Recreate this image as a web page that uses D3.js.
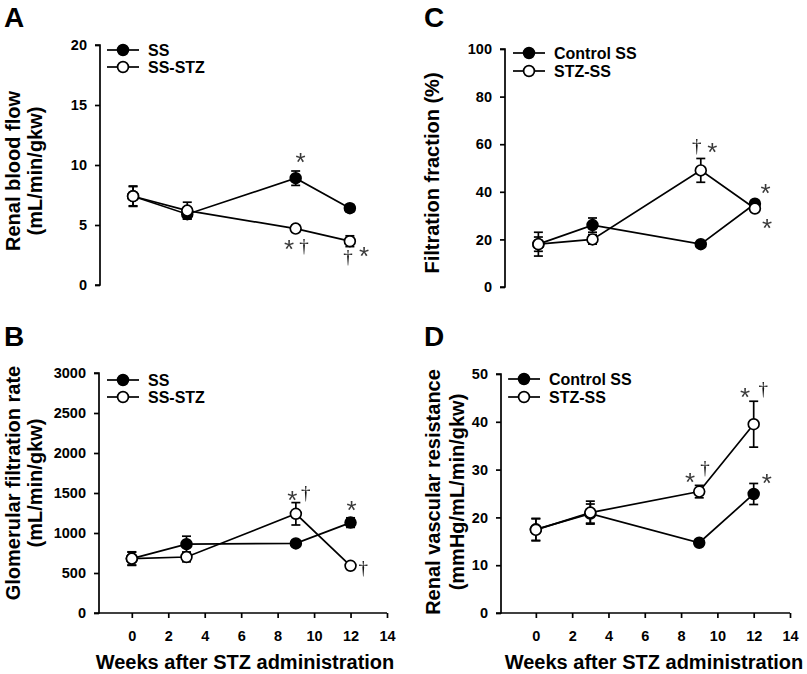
<!DOCTYPE html>
<html><head><meta charset="utf-8">
<script src="https://cdn.jsdelivr.net/npm/d3@7"></script>
<style>
html,body{margin:0;padding:0;background:#fff;}
svg{display:block;}
text{font-family:"Liberation Sans",Arial,sans-serif;}
</style></head>
<body>
<svg id="chart" width="807" height="674">
  <defs><filter id="gray"><feColorMatrix type="saturate" values="0"/></filter></defs>
</svg>
<script>
// ---------- DATA ----------
const weeks = [0, 3, 9, 12];
const xTicks = [0, 2, 4, 6, 8, 10, 12, 14];

// A: Renal blood flow
const rbfSS = [7.4, 5.9, 8.9, 6.4];
const rbfSSErr = [0.8, 0.4, 0.6, 0.3];
const rbfSTZ = [7.4, 6.2, 4.7, 3.65];
const rbfSTZErr = [0.85, 0.7, 0.3, 0.45];
const rbfTicks = [0, 5, 10, 15, 20];

// B: GFR
const gfrSS = [680, 860, 870, 1130];
const gfrSSErr = [80, 100, 30, 60];
const gfrSTZ = [680, 700, 1240, 590];
const gfrSTZErr = [85, 60, 140, 40];
const gfrTicks = [0, 500, 1000, 1500, 2000, 2500, 3000];

// C: Filtration fraction
const ffSS = [18, 26, 18, 35];
const ffSSErr = [3, 3, 1, 1];
const ffSTZ = [18, 20, 49, 33];
const ffSTZErr = [5, 2, 5, 1];
const ffTicks = [0, 20, 40, 60, 80, 100];

// D: Renal vascular resistance
const rvrSS = [17.5, 20.8, 14.7, 24.9];
const rvrSSErr = [2.3, 2.0, 0.6, 2.2];
const rvrSTZ = [17.4, 21.0, 25.4, 39.5];
const rvrSTZErr = [2.3, 2.4, 1.3, 4.8];
const rvrTicks = [0, 10, 20, 30, 40, 50];

// significance marks: [week, value, symbol]
const annA = [[9.27, 10.75, "*"], [8.63, 3.5, "*"], [9.46, 3.17, "†"], [11.9, 2.33, "†"], [12.78, 2.92, "*"]];
const annB = [[8.8, 1487, "*"], [9.54, 1496, "†"], [12.06, 1362, "*"], [12.7, 556, "†"]];
const annC = [[8.78, 58.9, "†"], [9.64, 59.4, "*"], [12.59, 41.9, "*"], [12.68, 27.4, "*"]];
const annD = [[8.5, 28.7, "*"], [9.32, 30.2, "†"], [11.53, 46.4, "*"], [12.53, 46.8, "†"], [12.72, 28.5, "*"]];

// ---------- DRAW ----------
const svg = d3.select("#chart");

function panel(cfg) {
  const g = svg.append("g");
  const x = d3.scaleLinear().domain(cfg.xDom).range(cfg.xRange);
  const y = d3.scaleLinear().domain([0, d3.max(cfg.yTicks)]).range(cfg.yRange);

  // y axis
  const ya = g.append("g").attr("transform", `translate(${cfg.xRange[0]},0)`)
    .call(d3.axisLeft(y).tickValues(cfg.yTicks).tickSize(5).tickPadding(8).tickFormat(d3.format("d")));
  ya.select(".domain").attr("d", `M-5,${cfg.yRange[1]}H0V${cfg.yRange[0]}H-5`).attr("stroke", "#000").attr("stroke-width", 1.7);
  ya.selectAll(".tick line").attr("stroke", "#000").attr("stroke-width", 1.7);
  ya.selectAll(".tick text").attr("font-size", 14.5).attr("font-weight", "bold").attr("fill", "#000")
    .style("font-family", '"Liberation Sans",Arial,sans-serif');

  // x axis
  if (cfg.showX) {
    const xa = g.append("g").attr("transform", `translate(0,${cfg.yRange[0]})`)
      .call(d3.axisBottom(x).tickValues(xTicks).tickSize(5).tickPadding(13).tickFormat(d3.format("d")));
    xa.select(".domain").attr("d", `M${cfg.xRange[0]},0H${x(14)}`).attr("stroke", "#000").attr("stroke-width", 1.7);
    xa.selectAll(".tick line").attr("stroke", "#000").attr("stroke-width", 1.7);
    xa.selectAll(".tick text").attr("font-size", 14.5).attr("font-weight", "bold").attr("fill", "#000")
      .style("font-family", '"Liberation Sans",Arial,sans-serif');
    g.append("text").attr("x", cfg.xTitleX).attr("y", 669).attr("text-anchor", "middle")
      .attr("font-size", 20).attr("font-weight", "bold").text("Weeks after STZ administration");
  }

  // y title
  cfg.yTitle.forEach((t, i) => {
    g.append("text").attr("transform", `translate(${cfg.yTitleX[i]},${cfg.yTitleY}) rotate(-90)`)
      .attr("text-anchor", "middle").attr("font-size", 20).attr("font-weight", "bold").text(t);
  });

  // panel letter
  g.append("text").attr("x", cfg.letterX).attr("y", cfg.letterY).attr("font-size", 28)
    .attr("font-weight", "bold").text(cfg.letter);

  const series = [
    { v: cfg.ss, e: cfg.ssErr, fill: "#000" },
    { v: cfg.stz, e: cfg.stzErr, fill: "#fff" }
  ];
  const line = d3.line().x((d, i) => x(weeks[i])).y(d => y(d));
  series.forEach(s => {
    const sg = g.append("g");
    sg.append("path").attr("d", line(s.v)).attr("fill", "none").attr("stroke", "#000").attr("stroke-width", 1.7);
    weeks.forEach((w, i) => {
      const cx = x(w), top = y(s.v[i] + s.e[i]), bot = y(s.v[i] - s.e[i]);
      sg.append("line").attr("x1", cx).attr("x2", cx).attr("y1", top).attr("y2", bot).attr("stroke", "#000").attr("stroke-width", 1.7);
      sg.append("line").attr("x1", cx - 4.5).attr("x2", cx + 4.5).attr("y1", top).attr("y2", top).attr("stroke", "#000").attr("stroke-width", 1.7);
      sg.append("line").attr("x1", cx - 4.5).attr("x2", cx + 4.5).attr("y1", bot).attr("y2", bot).attr("stroke", "#000").attr("stroke-width", 1.7);
    });
    sg.selectAll("circle").data(s.v).join("circle")
      .attr("cx", (d, i) => x(weeks[i])).attr("cy", d => y(d)).attr("r", 5.4)
      .attr("fill", s.fill).attr("stroke", "#000").attr("stroke-width", 1.7);
  });

  // annotations
  const ag = g.append("g").attr("filter", "url(#gray)");
  cfg.ann.forEach(a => {
    const isStar = a[2] === "*";
    ag.append("text").attr("x", x(a[0])).attr("y", y(a[1]) + (isStar ? 15 : 5.5))
      .attr("text-anchor", "middle")
      .attr("font-size", isStar ? 26 : 19)
      .style("font-family", isStar ? '"Liberation Sans",Arial,sans-serif' : '"Liberation Serif","Times New Roman",serif')
      .attr("fill", isStar ? "#3a3a3a" : "#111").text(a[2]);
  });

  // legend
  cfg.legend.forEach((t, i) => {
    const ly = cfg.legY[i];
    const lx = cfg.legX;
    g.append("line").attr("x1", lx).attr("x2", lx + 32).attr("y1", ly).attr("y2", ly).attr("stroke", "#000").attr("stroke-width", 1.7);
    g.append("circle").attr("cx", lx + 16).attr("cy", ly).attr("r", 5.4).attr("fill", i === 0 ? "#000" : "#fff")
      .attr("stroke", "#000").attr("stroke-width", 1.7);
    g.append("text").attr("x", lx + 41).attr("y", ly + 5.7).attr("font-size", 16).attr("font-weight", "bold").text(t);
  });
}

panel({
  letter: "A", letterX: 4, letterY: 27,
  xDom: [-1.83, 14], xRange: [100, 386], yRange: [285, 45], yTicks: rbfTicks, showX: false,
  ss: rbfSS, ssErr: rbfSSErr, stz: rbfSTZ, stzErr: rbfSTZErr, ann: annA,
  yTitle: ["Renal blood flow", "(mL/min/gkw)"], yTitleX: [20, 42], yTitleY: 171,
  legend: ["SS", "SS-STZ"], legX: 107, legY: [50, 67]
});
panel({
  letter: "B", letterX: 4, letterY: 346,
  xDom: [-1.8, 14], xRange: [99, 387], yRange: [613, 373], yTicks: gfrTicks, showX: true, xTitleX: 245,
  ss: gfrSS, ssErr: gfrSSErr, stz: gfrSTZ, stzErr: gfrSTZErr, ann: annB,
  yTitle: ["Glomerular filtration rate", "(mL/min/gkw)"], yTitleX: [20, 42], yTitleY: 483,
  legend: ["SS", "SS-STZ"], legX: 107, legY: [380, 397]
});
panel({
  letter: "C", letterX: 424, letterY: 27,
  xDom: [-1.85, 14], xRange: [505, 791], yRange: [287, 49], yTicks: ffTicks, showX: false,
  ss: ffSS, ssErr: ffSSErr, stz: ffSTZ, stzErr: ffSTZErr, ann: annC,
  yTitle: ["Filtration fraction (%)"], yTitleX: [439], yTitleY: 173,
  legend: ["Control SS", "STZ-SS"], legX: 513, legY: [53, 71]
});
panel({
  letter: "D", letterX: 424, letterY: 346,
  xDom: [-1.92, 14], xRange: [501, 790], yRange: [613, 374], yTicks: rvrTicks, showX: true, xTitleX: 654,
  ss: rvrSS, ssErr: rvrSSErr, stz: rvrSTZ, stzErr: rvrSTZErr, ann: annD,
  yTitle: ["Renal vascular resistance", "(mmHg/mL/min/gkw)"], yTitleX: [440, 464], yTitleY: 492,
  legend: ["Control SS", "STZ-SS"], legX: 508, legY: [379, 397]
});
</script>
</body></html>
